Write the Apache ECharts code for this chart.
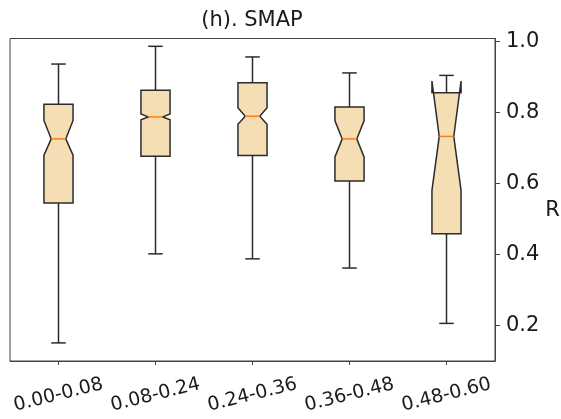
<!DOCTYPE html>
<html>
<head>
<meta charset="utf-8">
<script src="https://cdn.jsdelivr.net/npm/echarts@6/dist/echarts.min.js"></script>
<style>html,body{margin:0;padding:0;background:#fff;}#c{width:561px;height:419px;}</style>
</head>
<body>
<div id="c"></div>
<script>
const categories = ['0.00-0.08', '0.08-0.24', '0.24-0.36', '0.36-0.48', '0.48-0.60'];
const whiskerLow = [0.150, 0.401, 0.387, 0.361, 0.205];
const q1 = [0.544, 0.676, 0.678, 0.606, 0.458];
const notchLow = [0.679, 0.779, 0.766, 0.674, 0.580];
const median = [0.725, 0.787, 0.789, 0.725, 0.732];
const notchHigh = [0.777, 0.795, 0.813, 0.776, 0.888];
const q3 = [0.823, 0.862, 0.883, 0.815, 0.855];
const whiskerHigh = [0.936, 0.986, 0.956, 0.911, 0.904];
const yTicks = [0.2, 0.4, 0.6, 0.8, 1.0];

const FONT = 'DejaVu Sans';
const EDGE = '#2b2b2b';
const FILL = '#f5deb3';
const MED = '#ff7f0e';

const boxData = categories.map((c, i) => [i, whiskerLow[i], q1[i], notchLow[i], median[i], notchHigh[i], q3[i], whiskerHigh[i]]);

function renderItem(params, api) {
  const i = api.value(0);
  const band = api.size([1, 0])[0];
  const w = band * 0.3;
  const cx = api.coord([i, 0])[0];
  const y = k => api.coord([i, api.value(k)])[1];
  const yLo = y(1), yQ1 = y(2), yNL = y(3), yMed = y(4), yNH = y(5), yQ3 = y(6), yHi = y(7);
  const L = cx - w / 2, R = cx + w / 2, cl = cx - w / 4, cr = cx + w / 4;
  const pts = [[L, yQ1], [R, yQ1], [R, yNL], [cr, yMed], [R, yNH], [R, yQ3], [L, yQ3], [L, yNH], [cl, yMed], [L, yNL], [L, yQ1]];
  const lw = 1.5;
  return {
    type: 'group',
    children: [
      { type: 'polygon', shape: { points: pts }, style: { fill: FILL, stroke: EDGE, lineWidth: lw, lineJoin: 'miter' } },
      { type: 'line', shape: { x1: cx, y1: yQ1, x2: cx, y2: yLo }, style: { stroke: EDGE, lineWidth: lw } },
      { type: 'line', shape: { x1: cx, y1: yQ3, x2: cx, y2: yHi }, style: { stroke: EDGE, lineWidth: lw } },
      { type: 'line', shape: { x1: cl, y1: yLo, x2: cr, y2: yLo }, style: { stroke: EDGE, lineWidth: lw } },
      { type: 'line', shape: { x1: cl, y1: yHi, x2: cr, y2: yHi }, style: { stroke: EDGE, lineWidth: lw } },
      { type: 'line', shape: { x1: cl, y1: yMed, x2: cr, y2: yMed }, style: { stroke: MED, lineWidth: lw } }
    ]
  };
}

const chart = echarts.init(document.getElementById('c'), null, { renderer: 'canvas' });
chart.setOption({
  animation: false,
  backgroundColor: '#fff',
  title: {
    text: '(h). SMAP',
    left: 252,
    top: 10,
    textAlign: 'center',
    padding: 0,
    textStyle: { fontFamily: FONT, fontSize: 21, fontWeight: 'normal', color: '#1a1a1a' }
  },
  grid: {
    left: 10, right: 66, top: 38.5, bottom: 58,
    containLabel: false, outerBoundsMode: 'none',
    show: true, borderColor: '#444', borderWidth: 1, backgroundColor: 'transparent'
  },
  xAxis: {
    type: 'category',
    data: categories,
    boundaryGap: true,
    axisLine: { show: true, lineStyle: { color: '#444', width: 1 } },
    axisTick: { show: true, alignWithLabel: true, length: 4, lineStyle: { color: '#444' } },
    axisLabel: {
      interval: 0, rotate: 14, align: 'center', verticalAlign: 'middle', margin: 34,
      fontFamily: FONT, fontSize: 19, color: '#1a1a1a', hideOverlap: false
    },
    splitLine: { show: false }
  },
  yAxis: {
    type: 'value',
    position: 'right',
    min: 0.099, max: 1.008,
    name: 'R',
    nameLocation: 'middle',
    nameGap: 46,
    nameRotate: 0,
    nameTextStyle: { fontFamily: FONT, fontSize: 21, color: '#1a1a1a', align: 'left', verticalAlign: 'top' },
    axisLine: { show: true, lineStyle: { color: '#444', width: 1 } },
    axisTick: { show: true, length: 5, customValues: yTicks, lineStyle: { color: '#444' } },
    axisLabel: {
      customValues: yTicks, margin: 11,
      formatter: v => Number(v).toFixed(1),
      fontFamily: FONT, fontSize: 21, color: '#1a1a1a'
    },
    splitLine: { show: false }
  },
  series: [{
    type: 'custom',
    renderItem: renderItem,
    encode: { x: 0, y: [1, 2, 3, 4, 5, 6, 7] },
    data: boxData,
    clip: false
  }]
});
</script>
</body>
</html>
